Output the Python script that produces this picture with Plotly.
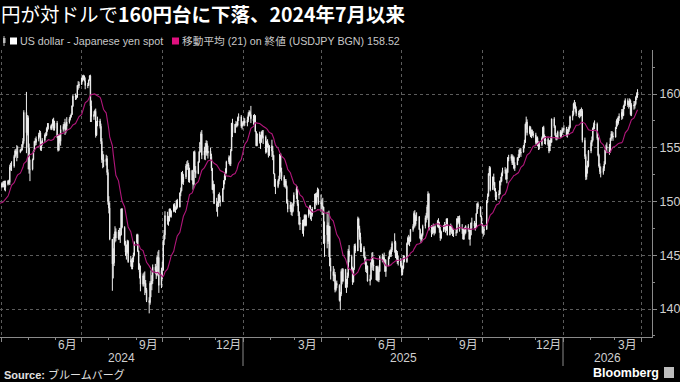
import numpy as np
import pandas as pd
import plotly.graph_objects as go

# ---------------- data: daily closes (c_) and daily high-low ranges (r_) per month -------------
c_2024_03 = [150.1, 150.5, 150.0, 149.4, 148.0, 147.1, 146.9, 147.7, 147.8, 148.3, 149.0, 149.1, 150.9, 151.3, 151.6, 151.4, 151.4, 151.6, 151.3, 151.35, 151.35]
r_2024_03 = [0.8, 0.7, 0.9, 1.0, 1.6, 1.5, 1.0, 1.0, 0.8, 0.7, 0.9, 0.8, 1.7, 1.5, 1.5, 0.9, 0.6, 0.6, 0.8, 0.5, 0.3]
c_2024_04 = [151.65, 151.57, 151.68, 151.3, 151.6, 151.9, 151.77, 153.2, 153.3, 153.3, 154.2, 154.7, 154.4, 154.6, 154.6, 154.8, 154.8, 155.3, 155.6, 158.3, 156.4, 157.8]
r_2024_04 = [0.5, 0.5, 0.6, 0.9, 1.0, 0.5, 0.4, 1.9, 0.7, 0.9, 1.2, 0.8, 0.7, 1.5, 1.1, 0.4, 0.3, 0.6, 0.9, 3.1, 5.7, 1.9]
c_2024_05 = [155.0, 153.0, 153.0, 153.9, 154.7, 155.6, 155.5, 155.8, 156.2, 156.4, 154.9, 155.4, 155.7, 156.2, 156.2, 156.8, 157.0, 157.0, 156.8, 157.1, 157.6, 156.8, 157.3]
r_2024_05 = [4.9, 2.8, 2.3, 1.1, 0.9, 1.0, 0.7, 0.8, 0.8, 0.7, 1.8, 0.9, 0.7, 0.8, 0.5, 0.8, 0.8, 0.6, 0.5, 0.6, 0.7, 1.2, 0.9]
c_2024_06 = [156.1, 154.8, 156.1, 155.6, 156.7, 157.0, 157.2, 156.7, 157.0, 157.4, 157.7, 157.9, 158.1, 158.9, 159.8, 159.7, 159.7, 160.8, 160.8, 160.9]
r_2024_06 = [1.6, 1.6, 1.5, 0.9, 1.9, 0.7, 0.6, 1.5, 1.0, 1.3, 0.6, 0.5, 0.4, 0.9, 1.1, 0.6, 0.4, 1.2, 0.8, 0.6]
c_2024_07 = [161.5, 161.4, 161.7, 161.2, 160.8, 160.8, 161.3, 161.7, 158.9, 157.9, 158.1, 158.4, 156.2, 157.4, 157.5, 157.0, 155.6, 153.9, 153.9, 153.7, 154.0, 152.7, 150.0]
r_2024_07 = [0.7, 0.6, 0.5, 0.5, 1.1, 0.5, 0.6, 0.5, 4.1, 2.0, 0.8, 0.6, 2.7, 1.4, 0.9, 0.9, 1.9, 2.3, 1.6, 1.2, 1.0, 1.8, 3.3]
c_2024_08 = [149.4, 146.5, 144.2, 144.3, 146.7, 147.2, 146.6, 147.2, 146.8, 146.9, 149.3, 147.6, 146.0, 145.3, 145.3, 146.3, 144.4, 144.5, 143.9, 144.6, 145.0, 146.2]
r_2024_08 = [1.6, 3.3, 4.8, 2.8, 3.0, 1.5, 1.2, 0.9, 1.1, 1.4, 2.5, 1.9, 1.8, 1.4, 1.4, 1.3, 2.1, 1.0, 1.0, 1.1, 0.9, 1.4]
c_2024_09 = [146.9, 145.4, 143.7, 143.4, 142.3, 143.1, 142.4, 142.4, 141.8, 140.8, 140.6, 142.4, 142.3, 142.6, 143.9, 143.6, 143.2, 144.8, 144.8, 142.2, 143.6]
r_2024_09 = [0.9, 1.7, 1.8, 1.4, 2.4, 1.2, 1.3, 2.2, 1.2, 1.3, 1.5, 2.2, 2.5, 1.4, 1.8, 0.9, 1.2, 1.9, 1.1, 4.0, 1.9]
c_2024_10 = [143.6, 146.4, 146.9, 148.7, 148.2, 148.2, 149.3, 148.6, 149.1, 149.7, 149.2, 149.3, 150.1, 149.5, 150.8, 151.0, 152.7, 151.8, 152.3, 153.3, 153.4, 153.4, 152.0]
r_2024_10 = [1.6, 2.8, 1.4, 2.6, 1.2, 0.9, 1.2, 0.8, 0.7, 0.8, 0.8, 0.6, 0.9, 0.9, 1.4, 0.8, 1.8, 1.2, 1.0, 1.4, 0.8, 0.9, 1.8]
c_2024_11 = [152.9, 152.0, 151.6, 154.6, 152.9, 152.6, 153.7, 154.6, 155.5, 156.3, 154.3, 154.7, 154.6, 155.4, 154.5, 154.7, 154.2, 153.1, 151.1, 151.6, 149.8]
r_2024_11 = [1.4, 1.0, 1.4, 3.2, 2.0, 1.1, 1.2, 1.1, 1.0, 1.2, 2.7, 1.2, 1.6, 1.4, 1.4, 1.2, 1.1, 1.6, 2.0, 1.2, 1.6]
c_2024_12 = [149.6, 149.6, 150.6, 150.1, 150.0, 151.2, 151.9, 152.4, 152.7, 153.7, 154.1, 153.5, 154.7, 157.3, 156.4, 157.2, 157.2, 157.1, 157.8, 157.9, 157.0, 157.2]
r_2024_12 = [1.3, 1.5, 1.2, 1.0, 1.0, 1.3, 0.9, 1.1, 1.1, 1.2, 0.8, 0.9, 1.6, 2.5, 1.7, 0.7, 0.6, 0.5, 0.9, 0.7, 1.2, 0.8]
c_2025_01 = [157.3, 157.5, 157.3, 157.6, 158.1, 158.3, 158.1, 157.7, 157.5, 158.0, 156.5, 155.2, 156.3, 155.6, 155.5, 156.5, 156.0, 156.0, 154.6, 155.6, 155.2, 154.3, 155.2]
r_2025_01 = [0.3, 0.8, 0.7, 0.9, 0.9, 0.6, 0.5, 1.6, 0.9, 0.8, 1.5, 1.4, 1.2, 1.1, 1.3, 0.9, 0.8, 1.3, 1.7, 1.1, 0.8, 1.3, 1.0]
c_2025_02 = [154.7, 154.3, 152.6, 151.4, 151.4, 151.9, 152.1, 154.4, 152.8, 152.3, 151.5, 151.9, 151.4, 149.9, 149.3, 149.7, 149.0, 149.1, 149.8, 150.6]
r_2025_02 = [1.6, 1.3, 1.8, 1.2, 1.4, 0.8, 0.8, 2.2, 1.8, 1.2, 1.1, 0.8, 0.9, 1.7, 1.2, 0.9, 1.2, 0.8, 0.9, 1.3]
c_2025_03 = [151.2, 149.8, 149.0, 147.9, 148.0, 147.3, 147.8, 148.7, 147.8, 148.7, 149.2, 149.3, 148.7, 148.8, 149.3, 150.7, 149.9, 150.6, 151.1, 149.8, 149.9]
r_2025_03 = [1.3, 1.8, 1.5, 1.3, 1.2, 1.3, 1.6, 1.1, 1.1, 1.1, 0.9, 0.8, 1.3, 1.1, 0.9, 1.4, 1.0, 1.2, 0.9, 1.5, 1.6]
c_2025_04 = [149.6, 149.5, 146.1, 146.9, 147.8, 146.3, 147.7, 144.0, 143.5, 143.1, 143.2, 141.8, 142.4, 142.2, 140.8, 141.4, 143.5, 142.6, 143.7, 142.0, 142.3, 143.1]
r_2025_04 = [0.9, 1.6, 3.3, 3.3, 3.4, 2.0, 4.3, 3.3, 2.0, 1.4, 1.2, 1.9, 0.9, 0.7, 1.6, 1.7, 2.5, 1.5, 1.3, 1.7, 1.3, 1.4]
c_2025_05 = [145.4, 144.9, 143.7, 142.5, 143.8, 145.9, 145.4, 148.4, 147.5, 146.7, 145.7, 145.7, 144.9, 144.6, 143.7, 144.0, 142.6, 142.8, 144.3, 144.8, 144.1, 144.0]
r_2025_05 = [2.7, 1.6, 1.5, 1.7, 1.3, 2.4, 0.9, 3.3, 1.1, 1.3, 1.8, 0.8, 1.1, 1.2, 1.4, 1.0, 1.5, 1.0, 1.7, 1.4, 1.7, 1.0]
c_2025_06 = [142.7, 143.9, 142.7, 143.5, 144.9, 144.6, 144.8, 144.6, 143.5, 144.1, 144.8, 145.3, 145.1, 145.5, 146.1, 146.2, 144.9, 145.2, 144.4, 144.6, 144.0]
r_2025_06 = [1.1, 1.4, 1.5, 1.2, 1.5, 0.8, 0.7, 1.1, 1.2, 1.6, 0.9, 0.8, 0.7, 0.9, 1.0, 1.8, 1.6, 0.9, 1.2, 0.9, 0.9]
c_2025_07 = [143.4, 143.8, 144.9, 144.4, 146.1, 146.6, 146.3, 146.3, 147.4, 147.7, 148.9, 147.9, 148.6, 148.6, 147.4, 146.6, 146.5, 146.9, 147.7, 148.5, 148.5, 149.5, 150.7]
r_2025_07 = [1.2, 0.9, 1.3, 0.6, 1.9, 0.8, 0.9, 0.9, 1.2, 0.7, 1.6, 1.6, 1.0, 0.8, 1.3, 1.0, 0.8, 0.7, 1.1, 1.2, 0.9, 1.4, 1.7]
c_2025_08 = [147.4, 147.1, 147.6, 147.4, 147.1, 147.7, 148.2, 147.8, 147.4, 146.6, 147.2, 147.8, 147.7, 147.3, 148.4, 146.9, 147.7, 147.4, 147.4, 147.0, 147.1]
r_2025_08 = [3.5, 1.1, 0.8, 0.9, 0.8, 0.8, 0.7, 0.9, 1.0, 1.3, 0.8, 0.6, 0.7, 0.8, 1.0, 1.6, 0.9, 0.8, 0.8, 0.8, 0.7]
c_2025_09 = [147.1, 148.4, 148.1, 148.5, 147.4, 147.5, 146.5, 147.4, 147.1, 147.7, 147.4, 146.5, 146.9, 148.0, 148.0, 147.7, 147.6, 148.9, 149.8, 149.5, 148.6, 147.9]
r_2025_09 = [0.6, 1.4, 0.8, 0.7, 1.5, 0.9, 1.0, 1.0, 0.8, 0.8, 0.7, 1.0, 1.6, 1.2, 1.0, 0.7, 0.7, 1.3, 1.0, 0.7, 1.0, 0.9]
c_2025_10 = [147.1, 147.3, 147.4, 150.1, 150.5, 152.6, 153.1, 151.1, 152.3, 151.8, 151.0, 150.4, 150.6, 150.7, 151.9, 151.9, 152.6, 152.9, 152.9, 152.1, 152.7, 154.1, 154.0]
r_2025_10 = [1.0, 0.9, 0.9, 2.6, 0.9, 2.2, 0.9, 2.3, 1.2, 1.1, 0.8, 1.1, 0.8, 0.8, 1.3, 0.8, 0.9, 0.8, 0.6, 1.0, 1.4, 1.5, 0.6]
c_2025_11 = [154.2, 153.6, 154.1, 153.1, 153.4, 154.1, 154.1, 154.8, 154.5, 154.6, 155.2, 155.5, 157.2, 157.4, 156.4, 156.9, 156.1, 156.5, 156.3, 156.2]
r_2025_11 = [0.6, 1.0, 0.9, 1.2, 0.8, 0.7, 0.6, 0.8, 0.7, 0.8, 0.7, 0.8, 1.8, 1.2, 1.5, 0.8, 1.0, 0.8, 0.6, 0.6]
c_2025_12 = [155.5, 155.9, 155.3, 155.1, 155.3, 155.9, 156.9, 156.0, 155.6, 155.8, 155.3, 154.7, 155.7, 155.5, 157.7, 157.0, 156.2, 155.9, 155.9, 156.5, 156.1, 156.4, 156.7]
r_2025_12 = [1.1, 0.7, 0.9, 0.8, 0.7, 0.9, 1.1, 1.2, 0.9, 0.8, 0.8, 1.0, 1.0, 0.9, 2.2, 1.0, 1.0, 0.7, 0.4, 0.8, 0.7, 0.6, 0.7]
c_2026_01 = [156.7, 156.8, 156.2, 156.5, 156.7, 156.9, 157.9, 158.1, 159.1, 159.0, 158.6, 158.2, 158.1, 158.2, 158.3, 158.4, 155.7, 154.2, 152.3, 153.1, 153.3, 154.7]
r_2026_01 = [0.3, 0.7, 0.9, 0.8, 0.7, 0.6, 1.2, 0.9, 1.2, 0.8, 0.9, 0.9, 0.6, 0.8, 0.7, 0.8, 3.1, 2.0, 2.3, 1.3, 1.2, 1.6]
c_2026_02 = [155.5, 155.7, 156.8, 157.1, 157.2, 155.9, 154.3, 153.3, 152.8, 152.7, 153.1, 153.5, 154.8, 155.0, 155.1, 154.6, 155.9, 156.3, 156.1, 156.0]
r_2026_02 = [1.2, 0.9, 1.3, 0.8, 0.8, 1.6, 1.8, 1.3, 1.0, 1.0, 0.8, 0.9, 1.4, 0.8, 0.9, 1.0, 1.4, 0.9, 0.7, 0.8]
c_2026_03 = [156.9, 157.5, 157.3, 157.8, 157.9, 158.3, 158.0, 158.9, 159.1, 159.4, 159.0, 159.0, 159.4, 158.1, 159.0, 158.9, 159.1, 159.7, 159.9, 160.2]
r_2026_03 = [1.0, 0.9, 0.8, 0.8, 0.7, 1.0, 0.9, 1.0, 0.8, 0.7, 0.8, 0.7, 0.8, 1.5, 1.2, 0.8, 0.7, 0.8, 0.7, 0.8]

# notable days whose high / low are read directly
hl_override = {
    "2024-05-01": (158.0, 153.0),
    "2024-05-03": (153.9, 151.9),
    "2024-07-11": (161.8, 157.4),
    "2024-08-02": (149.9, 146.4),
    "2024-08-05": (146.4, 141.7),
    "2024-09-16": (141.1, 139.6),
    "2024-12-03": (150.0, 148.6),
    "2025-01-10": (158.9, 157.3),
    "2025-04-22": (141.6, 139.9),
    "2025-05-12": (148.6, 145.4),
    "2026-01-27": (154.4, 152.0),
}

last_date = "2026-03-27"
ma_window = 21

month_labels = ["6月", "9月", "12月", "3月", "6月", "9月", "12月", "3月"]
month_label_dates = ["2024-06-15", "2024-09-15", "2024-12-16", "2025-03-16",
                     "2025-06-15", "2025-09-15", "2025-12-16", "2026-03-16"]
year_labels = ["2024", "2025", "2026"]
y_ticks = [140, 145, 150, 155, 160]
y_minor = [137.5, 142.5, 147.5, 152.5, 157.5, 162.5]

title_plain = "円が対ドルで"
title_bold = "160円台に下落、2024年7月以来"
legend_1 = "US dollar - Japanese yen spot"
legend_2 = "移動平均 (21) on 終値 (USDJPY BGN) 158.52"
source_label = "Source:"
source_text = "ブルームバーグ"

# ---------------- build the daily table -------------
months = [
    ("2024-03", c_2024_03, r_2024_03), ("2024-04", c_2024_04, r_2024_04),
    ("2024-05", c_2024_05, r_2024_05), ("2024-06", c_2024_06, r_2024_06),
    ("2024-07", c_2024_07, r_2024_07), ("2024-08", c_2024_08, r_2024_08),
    ("2024-09", c_2024_09, r_2024_09), ("2024-10", c_2024_10, r_2024_10),
    ("2024-11", c_2024_11, r_2024_11), ("2024-12", c_2024_12, r_2024_12),
    ("2025-01", c_2025_01, r_2025_01), ("2025-02", c_2025_02, r_2025_02),
    ("2025-03", c_2025_03, r_2025_03), ("2025-04", c_2025_04, r_2025_04),
    ("2025-05", c_2025_05, r_2025_05), ("2025-06", c_2025_06, r_2025_06),
    ("2025-07", c_2025_07, r_2025_07), ("2025-08", c_2025_08, r_2025_08),
    ("2025-09", c_2025_09, r_2025_09), ("2025-10", c_2025_10, r_2025_10),
    ("2025-11", c_2025_11, r_2025_11), ("2025-12", c_2025_12, r_2025_12),
    ("2026-01", c_2026_01, r_2026_01), ("2026-02", c_2026_02, r_2026_02),
    ("2026-03", c_2026_03, r_2026_03),
]

dates, closes, ranges = [], [], []
for m, c, r in months:
    start = pd.Timestamp(m + "-01")
    end = min(start + pd.offsets.MonthEnd(0), pd.Timestamp(last_date))
    bd = pd.bdate_range(start, end)
    n = min(len(c), len(r))
    idx = np.round(np.linspace(0, len(bd) - 1, n)).astype(int)
    dates.extend(list(bd[idx]))
    closes.extend(c[:n])
    ranges.extend(r[:n])

df = pd.DataFrame({"date": dates, "close": closes, "range": ranges})
df["open"] = df["close"].shift(1).fillna(df["close"])
body_hi = df[["open", "close"]].max(axis=1)
body_lo = df[["open", "close"]].min(axis=1)
wick = (df["range"] - (body_hi - body_lo)).clip(lower=0) / 2
df["high"] = body_hi + wick
df["low"] = body_lo - wick
for d, (h, l) in hl_override.items():
    mask = df["date"] == pd.Timestamp(d)
    df.loc[mask, "high"] = np.maximum(h, body_hi[mask])
    df.loc[mask, "low"] = np.minimum(l, body_lo[mask])
df["ma"] = df["close"].rolling(ma_window).mean()

# ---------------- figure -------------
W, H = 680, 382
ML, MR, MT, MB = 0, 28, 50, 45
PW, PH = W - ML - MR, H - MT - MB


def px2x(px):
    return (px - ML) / PW


def py2y(py):
    return (H - MB - py) / PH


x_start = pd.Timestamp("2024-03-29 20:00")
x_end = pd.Timestamp("2026-04-12 12:00")

fig = go.Figure()
candle_style = dict(line=dict(color="#eeeeee", width=1), fillcolor="#eeeeee")
fig.add_trace(go.Candlestick(
    x=df["date"], open=df["open"], high=df["high"], low=df["low"], close=df["close"],
    increasing=candle_style, decreasing=candle_style, whiskerwidth=0,
    showlegend=False, hoverinfo="skip", name=legend_1,
))
fig.add_trace(go.Scatter(
    x=df["date"], y=df["ma"], mode="lines", name=legend_2,
    line=dict(color="#b0167a", width=1.1), showlegend=False, hoverinfo="skip",
))

quarter_starts = pd.date_range("2024-04-01", "2026-04-01", freq="QS")
axis_gray = "#8a8a8a"
grid_gray = "#5c5c5c"

fig.update_layout(
    width=W, height=H,
    margin=dict(l=ML, r=MR, t=MT, b=MB, pad=0),
    paper_bgcolor="black", plot_bgcolor="black",
    showlegend=False,
    font=dict(family="Liberation Sans, Noto Sans CJK JP", color="#cccccc", size=12),
    xaxis=dict(
        type="date", range=[x_start, x_end],
        tickmode="array", tickvals=list(quarter_starts), showticklabels=False,
        ticks="outside", ticklen=4, tickcolor=axis_gray, tickwidth=1,
        showgrid=True, gridcolor=grid_gray, griddash="dot", gridwidth=1,
        showline=True, linecolor=axis_gray, linewidth=1, zeroline=False,
        minor=dict(tickmode="linear", tick0="2024-01-01", dtick="M1", ticks="outside",
                   ticklen=2, tickcolor=axis_gray, showgrid=False),
        rangeslider=dict(visible=False), fixedrange=True,
    ),
    yaxis=dict(
        side="right", range=[137.4, 164.1],
        tickmode="array", tickvals=y_ticks, ticktext=[str(v) for v in y_ticks],
        ticks="outside", ticklen=4, tickcolor=axis_gray,
        tickfont=dict(size=12.5, color="#d0d0d0"),
        showgrid=True, gridcolor=grid_gray, griddash="dot", gridwidth=1,
        showline=True, linecolor=axis_gray, linewidth=1, zeroline=False,
        minor=dict(tickmode="array", tickvals=y_minor, ticks="outside", ticklen=2,
                   tickcolor=axis_gray, showgrid=False),
        fixedrange=True,
    ),
)

annotations = []
# title
annotations.append(dict(
    text=f"{title_plain}<b>{title_bold}</b>", xref="paper", yref="paper",
    x=px2x(0), y=py2y(14), xanchor="left", yanchor="middle", showarrow=False,
    borderpad=0,
    font=dict(family="Noto Sans CJK JP", size=19.5, color="#ffffff"),
))
# legend texts
annotations.append(dict(
    text=legend_1, xref="paper", yref="paper", x=px2x(18), y=py2y(41),
    xanchor="left", yanchor="middle", showarrow=False,
    font=dict(size=10.7, color="#c8c8c8"),
))
annotations.append(dict(
    text=legend_2, xref="paper", yref="paper", x=px2x(180), y=py2y(41),
    xanchor="left", yanchor="middle", showarrow=False,
    font=dict(size=10.7, color="#c8c8c8"),
))
# month tick labels
for lab, d in zip(month_labels, month_label_dates):
    annotations.append(dict(
        text=lab, xref="x", yref="paper", x=d, y=py2y(345),
        xanchor="center", yanchor="middle", showarrow=False,
        font=dict(size=12, color="#d0d0d0"),
    ))
# year labels centred on the visible part of each year
year_bounds = [x_start, pd.Timestamp("2025-01-01"), pd.Timestamp("2026-01-01"), x_end]
for i, lab in enumerate(year_labels):
    mid = year_bounds[i] + (year_bounds[i + 1] - year_bounds[i]) / 2
    annotations.append(dict(
        text=lab, xref="x", yref="paper", x=mid, y=py2y(358),
        xanchor="center", yanchor="middle", showarrow=False,
        font=dict(size=12, color="#d0d0d0"),
    ))
# source + brand
annotations.append(dict(
    text=f"<b>{source_label}</b> {source_text}", xref="paper", yref="paper",
    x=px2x(2), y=py2y(374), xanchor="left", yanchor="middle", showarrow=False,
    font=dict(size=11, color="#e0e0e0"),
))
annotations.append(dict(
    text="<b>Bloomberg</b>", xref="paper", yref="paper",
    x=px2x(661), y=py2y(373), xanchor="right", yanchor="middle", showarrow=False,
    font=dict(size=12.5, color="#ffffff"),
))

shapes = []
# year separators below the axis
for d in year_bounds[1:3]:
    shapes.append(dict(type="line", xref="x", yref="paper", x0=d, x1=d,
                       y0=0, y1=py2y(366), line=dict(color=axis_gray, width=1)))
# legend swatches
shapes.append(dict(type="line", xref="paper", yref="paper", x0=px2x(4), x1=px2x(4),
                   y0=py2y(36), y1=py2y(46), line=dict(color="#bbbbbb", width=1)))
shapes.append(dict(type="rect", xref="paper", yref="paper", x0=px2x(3), x1=px2x(5.5),
                   y0=py2y(38), y1=py2y(43), line=dict(width=0), fillcolor="#bbbbbb"))
shapes.append(dict(type="rect", xref="paper", yref="paper", x0=px2x(10), x1=px2x(17),
                   y0=py2y(37.5), y1=py2y(44.5), line=dict(width=0), fillcolor="#ffffff"))
shapes.append(dict(type="rect", xref="paper", yref="paper", x0=px2x(172), x1=px2x(179),
                   y0=py2y(37.5), y1=py2y(44.5), line=dict(width=0), fillcolor="#e0117f"))
# brand icon
shapes.append(dict(type="rect", xref="paper", yref="paper", x0=px2x(664), x1=px2x(674),
                   y0=py2y(367), y1=py2y(378), line=dict(width=0), fillcolor="#bdbdbd"))

fig.update_layout(annotations=annotations, shapes=shapes)
fig.write_html("out.html")
